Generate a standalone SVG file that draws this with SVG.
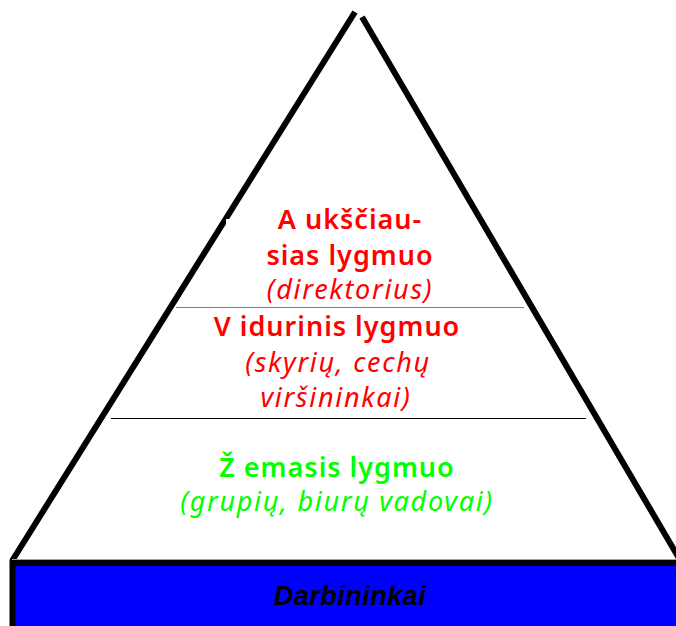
<svg xmlns="http://www.w3.org/2000/svg" width="676" height="626" viewBox="0 0 676 626">
  <style>
    .edge { stroke: #000; stroke-width: 6; stroke-linecap: butt; fill: none; }
    .divider { stroke-width: 1; }
    .head { font-family: "Noto Sans", "DejaVu Sans", sans-serif; font-weight: 600; font-size: 27px; letter-spacing: 1px; text-anchor: middle; }
    .sub { font-family: "Noto Sans", "DejaVu Sans", sans-serif; font-style: italic; font-size: 27px; letter-spacing: 1.7px; text-anchor: middle; }
    .red { fill: #ff0000; }
    .green { fill: #00ff00; }
    .base-label { font-family: "Liberation Sans", Arial, sans-serif; font-weight: bold; font-style: italic; font-size: 27px; letter-spacing: 0.5px; fill: #000; text-anchor: middle; }
  </style>
  <rect width="676" height="626" fill="#ffffff"/>

  <!-- pyramid outline and level dividers -->
  <g id="connectors">
    <line class="edge" x1="355" y1="12" x2="12" y2="561"/>
    <line class="edge" x1="362" y1="17" x2="680" y2="560"/>
    <rect x="226" y="219" width="4" height="5" fill="#ffffff"/>
    <line class="divider" x1="176" y1="307.5" x2="524" y2="307.5" stroke="#7f7f7f"/>
    <line class="divider" x1="111" y1="418.5" x2="586" y2="418.5" stroke="#000000"/>
    <line class="divider" x1="12" y1="559.5" x2="676" y2="559.5" stroke="#a0a0a0"/>
  </g>

  <!-- top level -->
  <g id="level-top">
    <text class="head red" x="350" y="229">A ukščiau-</text>
    <text class="head red" x="350" y="265">sias lygmuo</text>
    <text class="sub red" x="350" y="299">(direktorius)</text>
  </g>

  <!-- middle level -->
  <g id="level-middle">
    <text class="head red" x="337" y="336">V idurinis lygmuo</text>
    <text class="sub red" x="338" y="372">(skyrių, cechų</text>
    <text class="sub red" x="336" y="407">viršininkai)</text>
  </g>

  <!-- lower level -->
  <g id="level-lower">
    <text class="head green" x="337" y="477">Ž emasis lygmuo</text>
    <text class="sub green" x="337" y="511">(grupių, biurų vadovai)</text>
  </g>

  <!-- workers base -->
  <g id="base">
    <rect x="12.5" y="563" width="680" height="80" fill="#0000ff" stroke="#000000" stroke-width="6"/>
    <text class="base-label" x="350" y="605">Darbininkai</text>
  </g>
</svg>
